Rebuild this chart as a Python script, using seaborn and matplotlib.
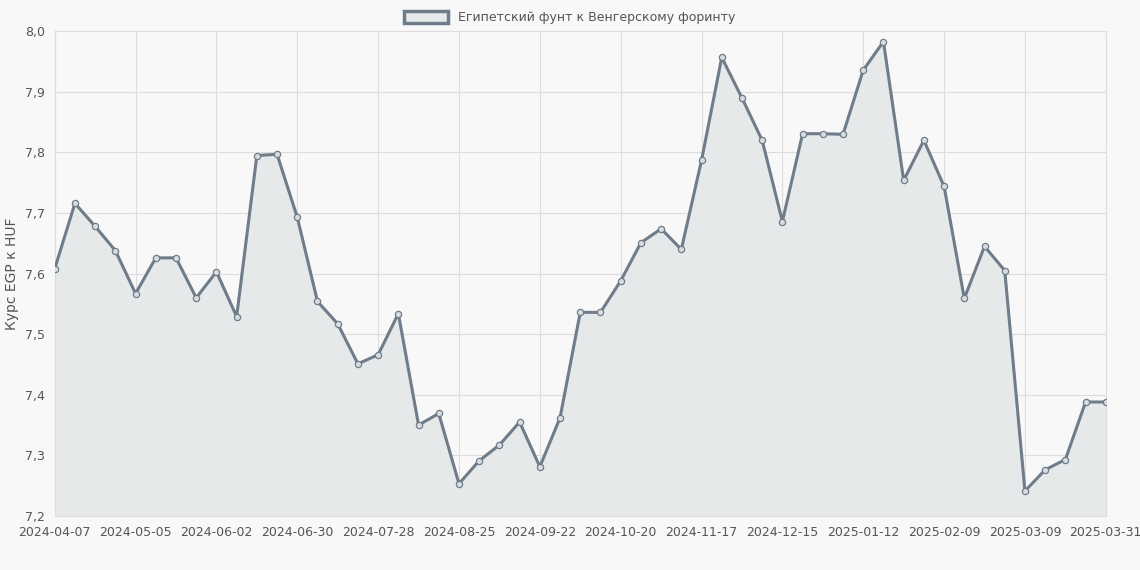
import pandas as pd
import matplotlib.pyplot as plt
import matplotlib.ticker as mticker
import seaborn as sns

# Weekly rate data
dates = [d.strftime('%Y-%m-%d') for d in pd.date_range('2024-04-07', periods=52, freq='7D')] + ['2025-03-31']
rates = [7.608, 7.716, 7.678, 7.638, 7.567, 7.626, 7.626, 7.560, 7.603, 7.529,
         7.795, 7.797, 7.693, 7.554, 7.517, 7.451, 7.466, 7.534, 7.350, 7.369,
         7.253, 7.291, 7.317, 7.355, 7.281, 7.362, 7.536, 7.536, 7.588, 7.651,
         7.674, 7.640, 7.787, 7.957, 7.890, 7.820, 7.686, 7.831, 7.831, 7.830,
         7.936, 7.983, 7.754, 7.820, 7.744, 7.559, 7.645, 7.605, 7.241, 7.276,
         7.293, 7.388, 7.388]

df = pd.DataFrame({'date': dates, 'rate': rates, 'i': range(len(dates))})

sns.set_style('whitegrid')
plt.rcParams['font.family'] = ['DejaVu Sans']

line_color = '#6f7c8a'
fill_color = '#e6e9e9'

fig, ax = plt.subplots(figsize=(11.4, 5.7), dpi=100)
fig.patch.set_facecolor('#f8f8f8')
ax.set_facecolor('#f8f8f8')

ax.fill_between(df['i'], df['rate'], 7.2, color=fill_color, zorder=1)
sns.lineplot(data=df, x='i', y='rate', ax=ax, color=line_color, linewidth=2.2,
             marker='o', markersize=4.5, markerfacecolor='#d8dcdf',
             markeredgecolor=line_color, markeredgewidth=0.9, zorder=3)

ax.set_xlim(0, len(dates) - 1)
ax.set_ylim(7.2, 8.0)
ticks = list(range(0, len(dates) - 1, 4)) + [len(dates) - 1]
ax.set_xticks(ticks)
ax.set_xticklabels([dates[t] for t in ticks], fontsize=9, color='#555555')
ax.yaxis.set_major_locator(mticker.MultipleLocator(0.1))
ax.yaxis.set_major_formatter(mticker.FuncFormatter(lambda v, p: f'{v:.1f}'.replace('.', ',')))
ax.tick_params(axis='y', labelsize=9, labelcolor='#555555')
ax.grid(color='#dddddd', linewidth=0.8)
for s in ax.spines.values():
    s.set_color('#dddddd')

ax.set_xlabel('')
ax.set_ylabel('Курс EGP к HUF', fontsize=10, color='#555555')

handle = plt.Rectangle((0, 0), 1, 1, facecolor=fill_color, edgecolor=line_color, linewidth=2.5)
fig.legend([handle], ['Египетский фунт к Венгерскому форинту'], loc='upper center',
           bbox_to_anchor=(0.5, 1.0), frameon=False, fontsize=9, labelcolor='#555555',
           handlelength=3.5, handleheight=1.1)

plt.subplots_adjust(left=0.048, right=0.97, top=0.945, bottom=0.095)
plt.savefig('out.png', facecolor=fig.get_facecolor())
